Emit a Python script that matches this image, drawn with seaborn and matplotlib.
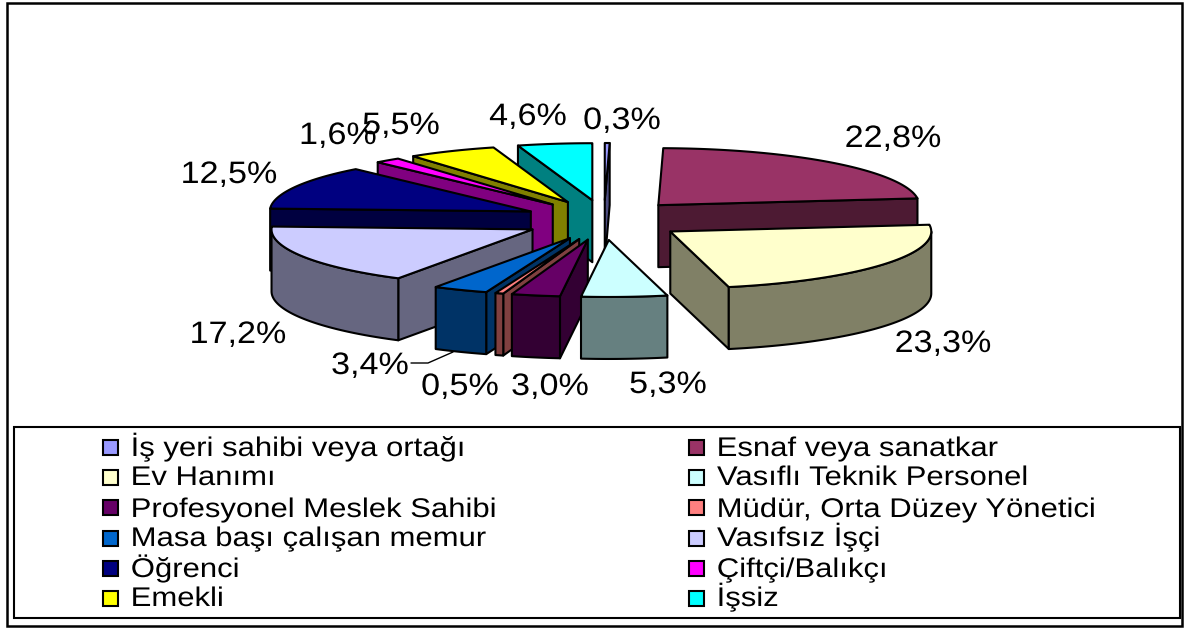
import numpy as np
import matplotlib
matplotlib.use("Agg")
import matplotlib.pyplot as plt
from matplotlib.patches import Polygon, Rectangle
from matplotlib.patheffects import AbstractPathEffect
from matplotlib.transforms import Affine2D
import seaborn as sns

categories = ["İş yeri sahibi veya ortağı", "Esnaf veya sanatkar", "Ev Hanımı",
              "Vasıflı Teknik Personel", "Profesyonel Meslek Sahibi",
              "Müdür, Orta Düzey Yönetici", "Masa başı çalışan memur", "Vasıfsız İşçi",
              "Öğrenci", "Çiftçi/Balıkçı", "Emekli", "İşsiz"]
values = [0.3, 22.8, 23.3, 5.3, 3.0, 0.5, 3.4, 17.2, 12.5, 1.6, 5.5, 4.6]
top_colors = ["#9999FF", "#993366", "#FFFFCC", "#CCFFFF", "#660066", "#FF8080",
              "#0066CC", "#CCCCFF", "#000080", "#FF00FF", "#FFFF00", "#00FFFF"]
label_centers = [(622, 121), (893, 139), (943, 344), (668, 385), (550, 387), (460, 387),
                 (370, 366), (238, 335), (229, 175), (338, 136), (401, 126), (528, 117)]
legend_baselines = [456, 485, 517, 546, 577, 606]
legend_box_centers = [447, 477, 507, 538, 568, 598]
legend_box_x = [103, 689]
legend_text_x = [131, 717]

sns.set_theme(style="white")
plt.rcParams["font.family"] = ["Liberation Sans", "DejaVu Sans"]
palette = sns.color_palette(top_colors)
shades = [tuple(c * 0.5 for c in col) for col in palette]


class StretchX(AbstractPathEffect):
    """Widen the glyph outlines of a text horizontally; anchor 0 = left, 0.5 = centre."""

    def __init__(self, factor, anchor=0.0):
        super().__init__()
        self.factor, self.anchor = factor, anchor

    def draw_path(self, renderer, gc, tpath, affine, rgbFace=None):
        ext = tpath.get_extents()
        pivot = ext.x0 + ext.width * self.anchor
        stretch = Affine2D().translate(-pivot, 0).scale(self.factor, 1).translate(pivot, 0)
        renderer.draw_path(gc, tpath, stretch + affine, rgbFace)


fig = plt.figure(figsize=(11.84, 6.28), dpi=100, facecolor="white")
ax = fig.add_axes([0, 0, 1, 1])
ax.set_xlim(0, 1184)
ax.set_ylim(628, 0)
ax.axis("off")

cx, cy, rx, ry = 604, 220, 261, 57
ex, ey, depth = 81, 20, 62
LW = 1.5

ax.add_patch(Rectangle((7, 3), 1175, 623, fc="white", ec="black", lw=LW + 0.3, zorder=0))
ax.add_patch(Rectangle((14, 427), 1166, 191, fc="white", ec="black", lw=LW, zorder=0))

vals = np.array(values, dtype=float)
edges = np.concatenate([[0], np.cumsum(vals)]) / vals.sum() * 2 * np.pi
mids = (edges[:-1] + edges[1:]) / 2


def pt(a, ox, oy):
    return ox + rx * np.sin(a), oy - ry * np.cos(a)


def wall(xs, ys, color, z):
    xs, ys = np.asarray(xs), np.asarray(ys)
    pts = np.column_stack([np.r_[xs, xs[::-1]], np.r_[ys, ys[::-1] + depth]])
    ax.add_patch(Polygon(pts, closed=True, fc=color, ec="black", lw=LW, joinstyle="round", zorder=z))


order = sorted(range(len(vals)), key=lambda i: -np.cos(mids[i]))
for z, i in enumerate(order):
    a0, a1, m = edges[i], edges[i + 1], mids[i]
    ox, oy = cx + ex * np.sin(m), cy - ey * np.cos(m)
    zz = 2 + z
    if np.sin(a0) < 0:
        p = pt(a0, ox, oy)
        wall([ox, p[0]], [oy, p[1]], shades[i], zz)
    if np.sin(a1) > 0:
        p = pt(a1, ox, oy)
        wall([ox, p[0]], [oy, p[1]], shades[i], zz)
    lo, hi = max(a0, np.pi / 2), min(a1, 1.5 * np.pi)
    if hi > lo:
        t = np.linspace(lo, hi, 60)
        wall(*pt(t, ox, oy), shades[i], zz)
    t = np.linspace(a0, a1, 80)
    xs, ys = pt(t, ox, oy)
    ax.add_patch(Polygon(np.column_stack([np.r_[ox, xs], np.r_[oy, ys]]), closed=True,
                         fc=palette[i], ec="black", lw=LW, joinstyle="round", zorder=zz))

LABEL_PX = 31
for v, (x, y) in zip(values, label_centers):
    ax.text(x, y, f"{v:.1f}%".replace(".", ","), ha="center", va="center",
            fontsize=LABEL_PX * 0.72, color="black", zorder=50,
            path_effects=[StretchX(1.10, 0.5)])

# leader line of the 3,4% label
ax.plot([411, 428, 453], [363, 363, 352], color="black", lw=1.0, zorder=1)

# legend: two columns, read row by row
LEGEND_PX = 27
BOX = 15
for i, name in enumerate(categories):
    row, col = i // 2, i % 2
    ax.add_patch(Rectangle((legend_box_x[col], legend_box_centers[row] - BOX / 2), BOX, BOX,
                           fc=palette[i], ec="black", lw=LW, zorder=5))
    ax.text(legend_text_x[col], legend_baselines[row], name, ha="left", va="baseline",
            fontsize=LEGEND_PX * 0.72, color="black", zorder=5,
            path_effects=[StretchX(1.15, 0.0)])

fig.savefig("out.png", dpi=100)
